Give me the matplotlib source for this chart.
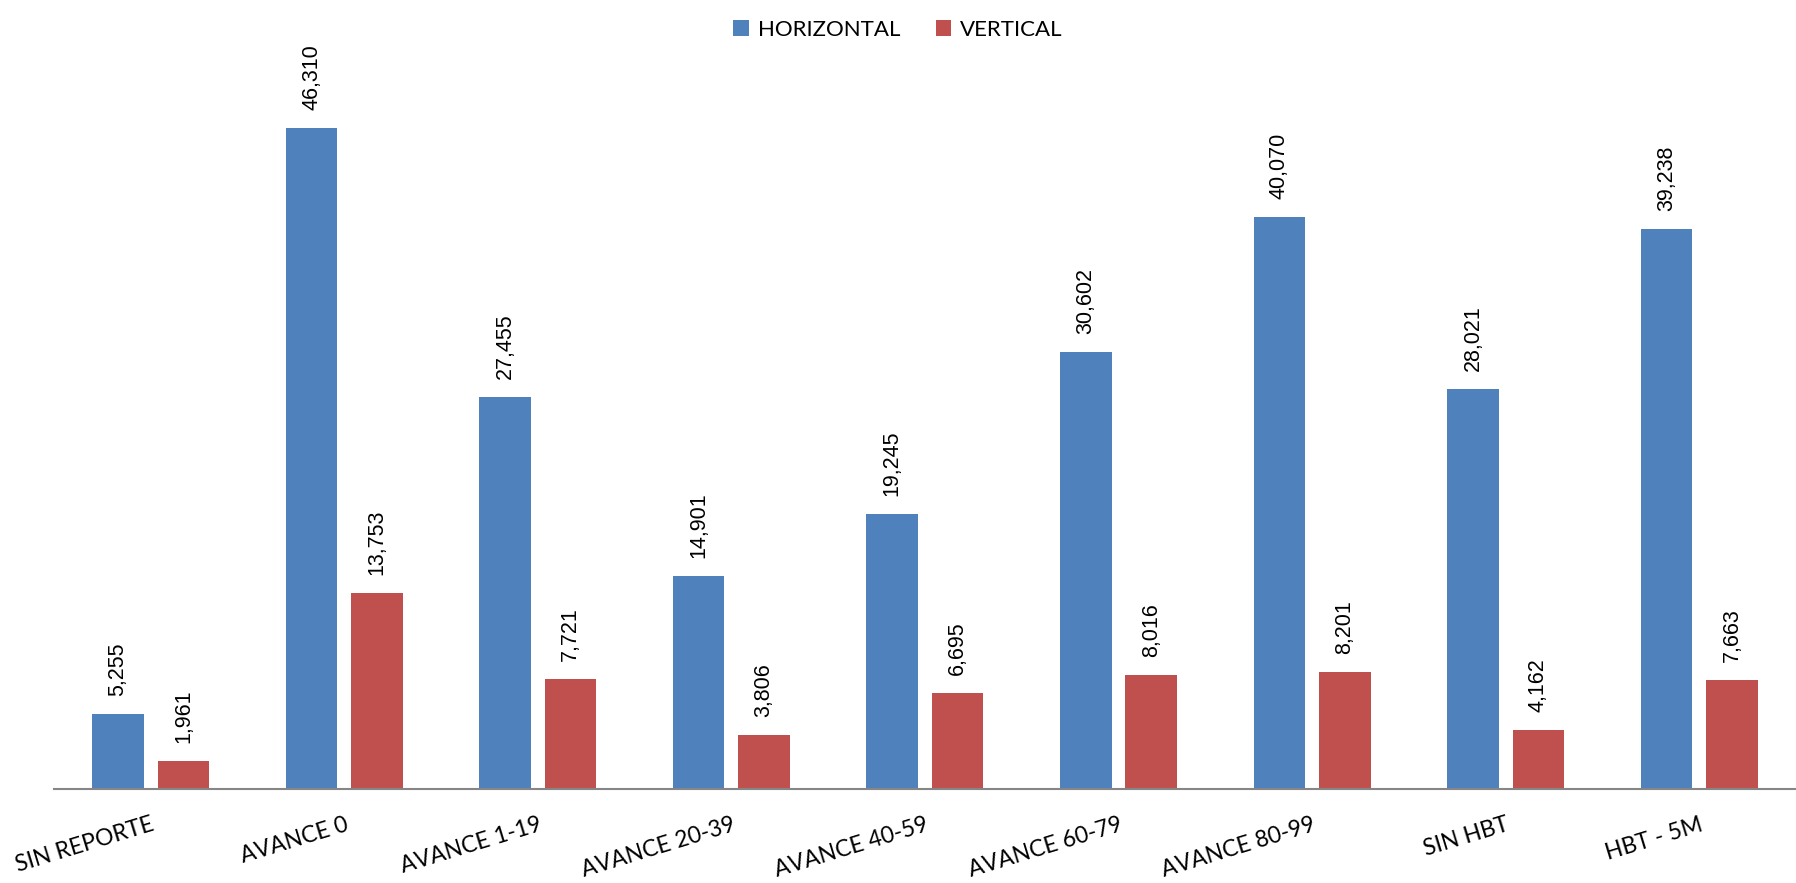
import matplotlib.pyplot as plt
import numpy as np

# data
categories = ['SIN REPORTE', 'AVANCE 0', 'AVANCE 1-19', 'AVANCE 20-39', 'AVANCE 40-59',
              'AVANCE 60-79', 'AVANCE 80-99', 'SIN HBT', 'HBT - 5M']
horizontal = [5255, 46310, 27455, 14901, 19245, 30602, 40070, 28021, 39238]
vertical = [1961, 13753, 7721, 3806, 6695, 8016, 8201, 4162, 7663]

blue = '#4F81BD'
red = '#C0504D'

fig = plt.figure(figsize=(17.96, 8.83), dpi=100)
ax = fig.add_axes([0.030, 0.1064, 0.970, 0.8086])

x = np.arange(len(categories))
w = 0.266
off = 0.169
b1 = ax.bar(x - off, horizontal, w, color=blue, label='HORIZONTAL')
b2 = ax.bar(x + off, vertical, w, color=red, label='VERTICAL')

for bars, vals in ((b1, horizontal), (b2, vertical)):
    for rect, v in zip(bars, vals):
        ax.annotate('{:,}'.format(v), (rect.get_x() + rect.get_width() / 2, rect.get_height()),
                    xytext=(0, 13), textcoords='offset points', rotation=90,
                    ha='center', va='bottom', fontsize=15.5, family='Liberation Sans',
                    annotation_clip=False)

ax.set_xlim(-0.5, len(categories) - 0.5)
ax.set_ylim(0, 50000)
ax.set_yticks([])
ax.set_xticks(x)
ax.set_xticklabels(categories, rotation=17, ha='right', va='top', rotation_mode='anchor',
                   fontsize=16.5, family='Lato')
ax.tick_params(axis='x', length=0, pad=18)
for s in ('top', 'right', 'left'):
    ax.spines[s].set_visible(False)
ax.spines['bottom'].set_color('#868686')
ax.spines['bottom'].set_linewidth(1.5)

fig.legend(loc='upper center', bbox_to_anchor=(0.5, 1.0), ncol=2, frameon=False,
           prop={'family': 'Lato', 'size': 16}, handlelength=0.7, handleheight=0.7,
           columnspacing=1.6, handletextpad=0.4)

fig.savefig('out.png', dpi=100)
